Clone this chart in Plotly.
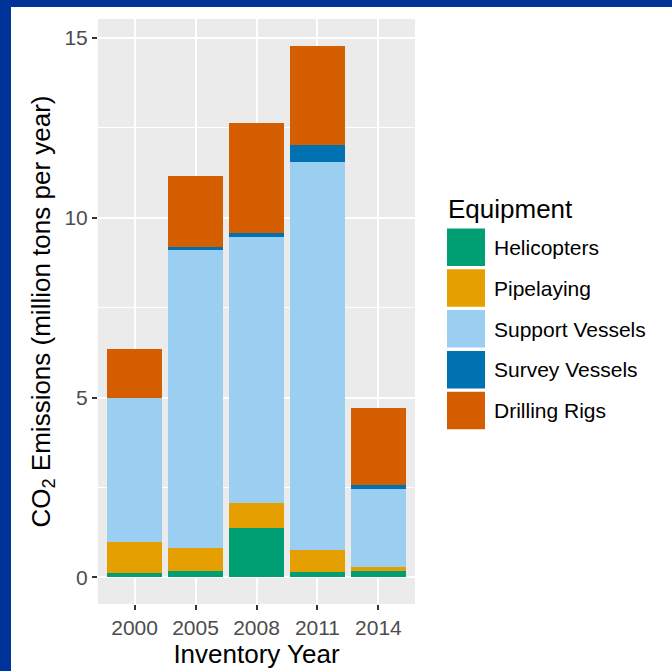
"""CO2 emissions by equipment type — stacked bars, ggplot-like styling."""

import plotly.graph_objects as go

# ── data ────────────────────────────────────────────────
years = ["2000", "2005", "2008", "2011", "2014"]
equipment = ["Helicopters", "Pipelaying", "Support Vessels", "Survey Vessels", "Drilling Rigs"]

helicopters = [0.12, 0.17, 1.36, 0.15, 0.17]
pipelaying = [0.87, 0.65, 0.72, 0.60, 0.12]
support_vessels = [4.01, 8.28, 7.39, 10.79, 2.16]
survey_vessels = [0.00, 0.07, 0.10, 0.49, 0.11]
drilling_rigs = [1.35, 1.99, 3.07, 2.75, 2.16]

y_ticks = [0, 5, 10, 15]

COLORS = ["#009E73", "#E69F00", "#9ACFF2", "#0072B2", "#D55E00"]
FONT = "Liberation Sans, Arial, sans-serif"

# ── plot area geometry (px) ─────────────────────────────
W, H = 672, 671
PL, PR, PT, PB = 98, 415, 19, 604


def px_x(px: float) -> float:
    return (px - PL) / (PR - PL)


def px_y(py: float) -> float:
    return (PB - py) / (PB - PT)


series = [helicopters, pipelaying, support_vessels, survey_vessels, drilling_rigs]

fig = go.Figure()
for name, vals, color in zip(equipment, series, COLORS):
    fig.add_trace(go.Bar(
        x=years, y=vals, name=name,
        marker=dict(color=color, line=dict(width=0)),
        showlegend=False,
    ))

totals = [sum(v) for v in zip(*series)]
ymax = max(totals)
pad = ymax * 0.05

fig.update_layout(
    barmode="stack",
    bargap=0.1,
    width=W, height=H,
    margin=dict(l=PL, r=W - PR, t=PT, b=H - PB),
    paper_bgcolor="white",
    plot_bgcolor="#EBEBEB",
    font=dict(family=FONT, color="black"),
)

fig.update_xaxes(
    range=[-0.6, len(years) - 0.4],
    showgrid=True, gridcolor="white", gridwidth=2,
    ticks="outside", ticklen=5, tickwidth=1.5, tickcolor="#333333",
    tickfont=dict(size=21, color="#4D4D4D"),
    title=dict(text="Inventory Year", font=dict(size=26, color="black"), standoff=1),
    showline=False, zeroline=False,
)
fig.update_yaxes(
    range=[-pad, ymax + pad],
    tickvals=y_ticks,
    showgrid=True, gridcolor="white", gridwidth=2,
    minor=dict(dtick=2.5, tick0=0, showgrid=True, gridcolor="white", gridwidth=1),
    ticks="outside", ticklen=5, tickwidth=1.5, tickcolor="#333333",
    tickfont=dict(size=21, color="#4D4D4D"),
    title=dict(text="CO<sub>2</sub> Emissions (million tons per year)",
               font=dict(size=26, color="black"), standoff=6),
    showline=False, zeroline=False,
)

# ── manual legend (ggplot-style large keys) ─────────────
shapes = []
annotations = [dict(
    text="Equipment", x=px_x(446), y=px_y(209), xref="paper", yref="paper",
    xanchor="left", yanchor="middle", showarrow=False,
    font=dict(size=26, color="black", family=FONT),
)]
for i, (name, color) in enumerate(zip(equipment, COLORS)):
    top = 228.5 + 40.8 * i
    shapes.append(dict(
        type="rect", xref="paper", yref="paper",
        x0=px_x(447), x1=px_x(485), y0=px_y(top + 37.5), y1=px_y(top),
        fillcolor=color, line=dict(width=0),
    ))
    annotations.append(dict(
        text=name, x=px_x(492), y=px_y(top + 19), xref="paper", yref="paper",
        xanchor="left", yanchor="middle", showarrow=False,
        font=dict(size=21, color="black", family=FONT),
    ))

# blue frame on left and top edges
BORDER = "#003399"
shapes.append(dict(type="rect", xref="paper", yref="paper", layer="above",
                   x0=px_x(0), x1=px_x(11), y0=px_y(H), y1=px_y(0),
                   fillcolor=BORDER, line=dict(width=0)))
shapes.append(dict(type="rect", xref="paper", yref="paper", layer="above",
                   x0=px_x(0), x1=px_x(W), y0=px_y(7), y1=px_y(0),
                   fillcolor=BORDER, line=dict(width=0)))

fig.update_layout(shapes=shapes, annotations=annotations)

# drop the browser's default body margin so the figure fills the window
fig.write_html(
    "out.html",
    config={"displayModeBar": False},
    post_script="document.body.style.margin='0';document.body.style.overflow='hidden';",
)
